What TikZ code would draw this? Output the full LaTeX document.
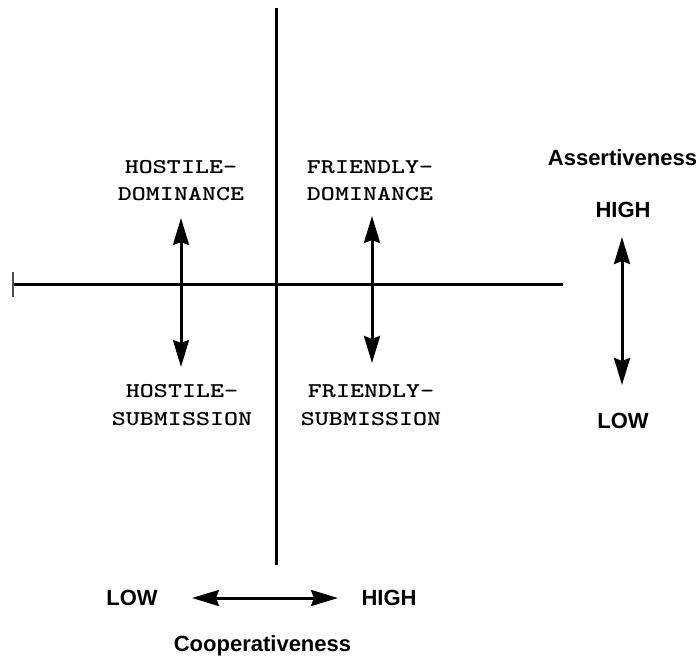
\documentclass[tikz,border=0pt]{standalone}
\usepackage{fontspec}
\usepackage{graphicx}
\usetikzlibrary{arrows.meta}
\newfontfamily\labelsans{Liberation Sans}
\newcommand{\quadtext}[1]{\scalebox{1.27}[1]{\fontsize{21}{21}\ttfamily\bfseries #1}}
\begin{document}
\begin{tikzpicture}[x=1pt,y=-1pt,
  axis/.style={line width=3pt},
  dblarrow/.style={line width=3pt,{Stealth[length=27pt,width=16pt,inset=3pt]}-{Stealth[length=27pt,width=16pt,inset=3pt]}},
  quad/.style={anchor=base,inner sep=0pt},
  scale label/.style={anchor=base,inner sep=0pt,font=\labelsans\bfseries\fontsize{22}{22}\selectfont}]
\useasboundingbox (0,0) rectangle (698,659);
% axes
\coordinate (vtop) at (276.5,8);
\coordinate (vbot) at (276.5,565);
\coordinate (hleft) at (14,284);
\coordinate (hright) at (562.5,284);
\coordinate (ticktop) at (13,272);
\coordinate (tickbot) at (13,297);
\draw[axis] (vtop) -- (vbot);
\draw[axis] (hleft) -- (hright);
\draw[line width=1.5pt,black!70] (ticktop) -- (tickbot);
% quadrant labels
\node[quad] (hd1) at (181,173) {\quadtext{HOSTILE-}};
\node[quad] (hd2) at (181,200) {\quadtext{DOMINANCE}};
\node[quad] (fd1) at (370,173) {\quadtext{FRIENDLY-}};
\node[quad] (fd2) at (370,200) {\quadtext{DOMINANCE}};
\node[quad] (hs1) at (182,397) {\quadtext{HOSTILE-}};
\node[quad] (hs2) at (182,425) {\quadtext{SUBMISSION}};
\node[quad] (fs1) at (371,397) {\quadtext{FRIENDLY-}};
\node[quad] (fs2) at (371,425) {\quadtext{SUBMISSION}};
% quadrant arrows
\coordinate (ha) at (181,218);
\coordinate (hb) at (181,367);
\coordinate (fa) at (372,216);
\coordinate (fb) at (372,363);
\draw[dblarrow] (ha) -- (hb);
\draw[dblarrow] (fa) -- (fb);
% assertiveness scale
\node[scale label] (assert) at (622.5,165) {Assertiveness};
\node[scale label] (ahigh) at (623,217) {HIGH};
\node[scale label] (alow) at (623,428) {LOW};
\coordinate (aa) at (622,237);
\coordinate (ab) at (622,385);
\draw[dblarrow] (aa) -- (ab);
% cooperativeness scale
\node[scale label] (clow) at (132,605) {LOW};
\node[scale label] (chigh) at (389,605) {HIGH};
\node[scale label] (coop) at (262.5,651) {Cooperativeness};
\coordinate (ca) at (192,598);
\coordinate (cb) at (338,598);
\draw[dblarrow] (ca) -- (cb);
\end{tikzpicture}
\end{document}
